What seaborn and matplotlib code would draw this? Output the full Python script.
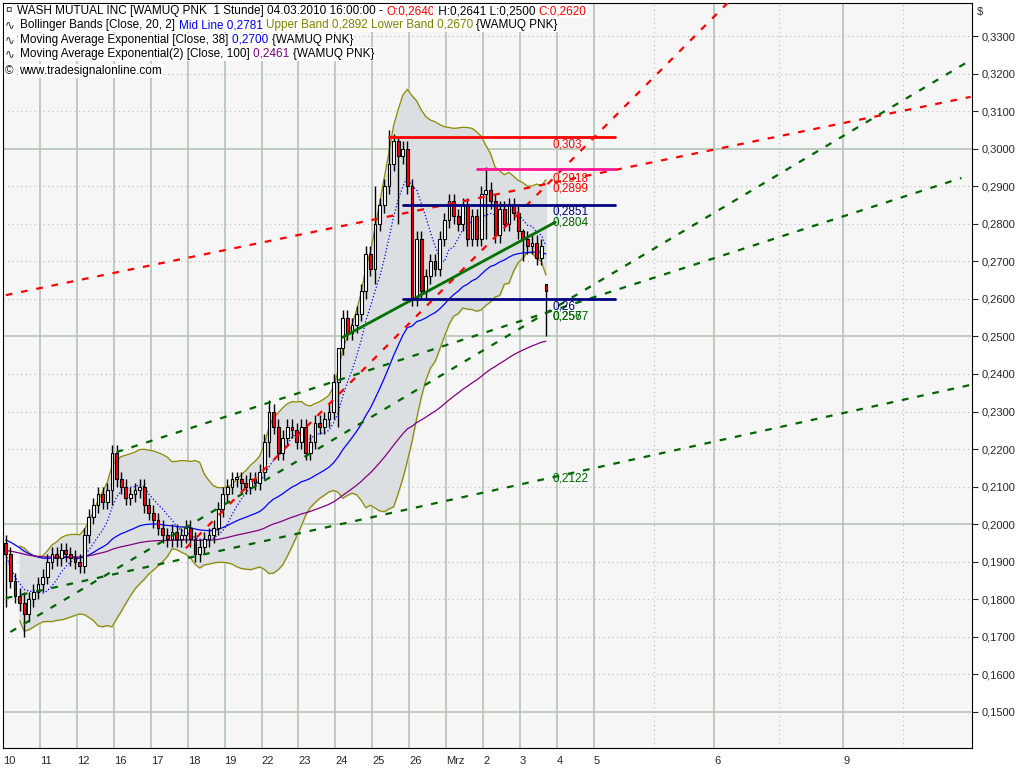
import numpy as np
import pandas as pd
import matplotlib
matplotlib.use("Agg")
import matplotlib.pyplot as plt
import seaborn as sns

# hourly closes, 8 bars per trading day
closes = [
    0.192, 0.185, 0.181, 0.179, 0.176, 0.180, 0.182, 0.184,   # 10
    0.186, 0.190, 0.192, 0.191, 0.193, 0.192, 0.191, 0.190,   # 11
    0.189, 0.197, 0.202, 0.205, 0.208, 0.206, 0.209, 0.219,   # 12
    0.212, 0.210, 0.207, 0.208, 0.209, 0.210, 0.205, 0.203,   # 16
    0.201, 0.199, 0.197, 0.196, 0.198, 0.196, 0.197, 0.199,   # 17
    0.196, 0.192, 0.194, 0.196, 0.197, 0.199, 0.204, 0.208,   # 18
    0.210, 0.212, 0.212, 0.211, 0.210, 0.212, 0.211, 0.214,   # 19
    0.222, 0.230, 0.226, 0.219, 0.223, 0.226, 0.225, 0.222,   # 22
    0.226, 0.219, 0.222, 0.227, 0.226, 0.228, 0.230, 0.238,   # 23
    0.247, 0.255, 0.251, 0.253, 0.256, 0.262, 0.272, 0.268,   # 24
    0.280, 0.285, 0.290, 0.296, 0.302, 0.298, 0.300, 0.290,   # 25
    0.260, 0.276, 0.262, 0.266, 0.270, 0.268, 0.276, 0.281,   # 26
    0.286, 0.282, 0.280, 0.285, 0.276, 0.282, 0.276, 0.288,   # Mrz 1
    0.289, 0.286, 0.277, 0.284, 0.280, 0.285, 0.283, 0.278,   # 2
    0.276, 0.274, 0.275, 0.271, 0.274, 0.262,                 # 3/4
]
first_open = 0.195
last_bar = {"open": 0.2640, "high": 0.2641, "low": 0.2500, "close": 0.2620}
wick = 0.002
spikes = {0: (0.197, 0.178), 4: (0.182, 0.170), 23: (0.221, 0.205), 57: (0.233, 0.218),
          72: (0.238, 0.226), 80: (0.290, 0.264), 83: (0.305, 0.288), 85: (0.303, 0.280),
          88: (0.292, 0.258), 104: (0.295, 0.276), 112: (0.2785, 0.270)}
ema_seed = {"ema38": 0.196, "ema100": 0.193}

day_ticks = [0, 8, 16, 24, 32, 40, 48, 56, 64, 72, 80, 88, 96, 104, 112, 120, 128, 141, 154, 168, 182, 195]
day_labels = ["10", "11", "12", "16", "17", "18", "19", "22", "23", "24", "25", "26", "Mrz",
              "2", "3", "4", "5", "", "6", "", "9", ""]

# trendlines: (bar0, price0, bar1, price1, colour, style)
trendlines = [
    (0, 0.2610, 209, 0.3138, "#ff0000", "--"),
    (39, 0.1936, 157, 0.3396, "#ff0000", "--"),
    (1, 0.1713, 209, 0.3236, "#006400", "--"),
    (24, 0.2192, 207, 0.2922, "#006400", "--"),
    (0, 0.1803, 209, 0.2371, "#006400", "--"),
    (73, 0.2498, 119, 0.2804, "#007000", "-"),
]
# horizontal levels: (bar0, bar1, price, colour, label)
levels = [
    (83, 132, 0.3030, "#ff0000", "0,303"),
    (102, 132, 0.2945, "#ff1493", None),
    (86, 132, 0.2851, "#000080", "0,2851"),
    (86, 132, 0.2600, "#000080", "0,26"),
]
extra_labels = [(0.2921, "#ff0000", "0,2918"), (0.2893, "#ff0000", "0,2899"),
                (0.2804, "#006400", "0,2804"), (0.2552, "#006400", "0,2567"),
                (0.2552, "#006400", "0,257"), (0.2122, "#006400", "0,2122")]

n = len(closes)
opens = [first_open] + closes[:-1]
highs, lows = [], []
for i in range(n):
    if i in spikes:
        highs.append(spikes[i][0]); lows.append(spikes[i][1])
    else:
        highs.append(max(opens[i], closes[i]) + wick); lows.append(min(opens[i], closes[i]) - wick)
opens[-1], highs[-1], lows[-1], closes[-1] = last_bar["open"], last_bar["high"], last_bar["low"], last_bar["close"]

df = pd.DataFrame({"bar": np.arange(n), "open": opens, "high": highs, "low": lows, "close": closes})
df["mid"] = df["close"].rolling(20, min_periods=4).mean()
sd = df["close"].rolling(20, min_periods=4).std(ddof=0)
df["upper"] = df["mid"] + 2 * sd
df["lower"] = df["mid"] - 2 * sd
for name, span in (("ema38", 38), ("ema100", 100)):
    seeded = pd.concat([pd.Series([ema_seed[name]]), df["close"]], ignore_index=True)
    df[name] = seeded.ewm(span=span, adjust=False).mean().iloc[1:].values
df["fast"] = df["close"].rolling(8, min_periods=1).mean()

sns.set_style("white")
plt.rcParams["font.family"] = ["Liberation Sans", "DejaVu Sans"]
fig = plt.figure(figsize=(10.24, 7.68), dpi=100)
fig.patch.set_facecolor("white")
ax = fig.add_axes([3 / 1024, 20 / 768, 969 / 1024, 745 / 768])
ax.set_facecolor("#f6f6f6")

ax.fill_between(df["bar"], df["lower"], df["upper"], color="#dcdfe2", zorder=1)
sns.lineplot(data=df, x="bar", y="upper", color="#8b8b00", lw=0.9, ax=ax, zorder=2)
sns.lineplot(data=df, x="bar", y="lower", color="#8b8b00", lw=0.9, ax=ax, zorder=2)
sns.lineplot(data=df, x="bar", y="ema38", color="#0000ff", lw=0.9, ax=ax, zorder=3)
sns.lineplot(data=df, x="bar", y="ema100", color="#800080", lw=0.9, ax=ax, zorder=3)
sns.lineplot(data=df, x="bar", y="fast", color="#0000ff", lw=0.9, ls=":", ax=ax, zorder=3)

# candles
up = df["close"] >= df["open"]
ax.vlines(df["bar"], df["low"], df["high"], color="black", lw=1, zorder=4)
body = (df["close"] - df["open"]).abs().clip(lower=0.0005)
ax.bar(df["bar"][up], body[up], bottom=df["open"][up], width=0.6, color="white",
       edgecolor="black", lw=0.8, zorder=5)
ax.bar(df["bar"][~up], body[~up], bottom=df["close"][~up], width=0.6, color="#ff0000",
       edgecolor="black", lw=0.8, zorder=5)

for b0, p0, b1, p1, c, ls in trendlines:
    ax.plot([b0, b1], [p0, p1], color=c, ls=ls, lw=2 if ls == "-" else 1.6,
            dashes=(3, 4) if ls == "--" else (None, None), zorder=6)
for b0, b1, p, c, lab in levels:
    ax.plot([b0, b1], [p, p], color=c, lw=2, zorder=6)
    if lab:
        ax.text(118.5, p - 0.0003, lab, color=c, fontsize=8.5, va="top", zorder=7)
for p, c, lab in extra_labels:
    ax.text(118.5, p, lab, color=c, fontsize=8.5, va="center", zorder=7)

# grid
yt = np.arange(0.15, 0.3301, 0.01)
for y in yt:
    solid = abs(round(y * 100) % 5) == 0
    ax.axhline(y, color="#b4c4b4" if solid else "#bbbbbb", lw=1.2 if solid else 0.8,
               ls="-" if solid else (0, (1, 3)), zorder=0.5)
for t, lab in zip(day_ticks, day_labels):
    ax.axvline(t - 0.6, color="#b4c4b4" if lab else "#bbbbbb", lw=1.2 if lab else 0.8,
               ls="-" if lab else (0, (1, 3)), zorder=0.5)

ax.set_xlim(-0.6, 209.3)
ax.set_ylim(0.1404, 0.3388)
ax.yaxis.tick_right()
ax.set_yticks(yt)
ax.set_yticklabels([f"{v:.4f}".replace(".", ",") for v in yt], fontsize=8)
ax.set_xticks([t - 0.6 for t in day_ticks])
ax.set_xticklabels(day_labels, fontsize=8, ha="left")
ax.tick_params(axis="x", length=4, pad=2)
ax.tick_params(axis="y", length=4, pad=3)
ax.set_xlabel(""); ax.set_ylabel("")
for s in ax.spines.values():
    s.set_color("black")
ax.text(1.005, 0.995, "$", transform=ax.transAxes, fontsize=8, va="top")

# header legend, pieces chained left to right
rows = [
    (11, "\u00a4", [("WASH MUTUAL INC [WAMUQ PNK  1 Stunde] 04.03.2010 16:00:00 - ", "black"),
              ("O:0,2640", "#ff0000"), (" H:0,2641 L:0,2500 ", "black"), ("C:0,2620", "#ff0000")]),
    (25, "\u223f", [("Bollinger Bands [Close, 20, 2] ", "black"), ("Mid Line 0,2781 ", "#0000ff"),
              ("Upper Band 0,2892 Lower Band 0,2670 ", "#808000"), ("{WAMUQ PNK}", "black")]),
    (40, "\u223f", [("Moving Average Exponential [Close, 38] ", "black"), ("0,2700 ", "#0000ff"),
              ("{WAMUQ PNK}", "black")]),
    (54, "\u223f", [("Moving Average Exponential(2) [Close, 100] ", "black"), ("0,2461 ", "#800080"),
              ("{WAMUQ PNK}", "black")]),
    (71, "\u00a9", [("www.tradesignalonline.com", "black")]),
]
bb = dict(facecolor="white", edgecolor="none", pad=1.0)
for ypix, icon, parts in rows:
    prev = fig.text(5 / 1024, 1 - ypix / 768, icon, fontsize=8.5, va="center", bbox=bb, zorder=10)
    gap = 4
    for txt, col in parts:
        prev = ax.annotate(txt, xy=(1, 0.5), xycoords=prev, xytext=(gap, 0), textcoords="offset points",
                           va="center", ha="left", color=col, fontsize=8.5, bbox=bb, zorder=10,
                           annotation_clip=False)
        gap = 0

fig.savefig("out.png", dpi=100)
